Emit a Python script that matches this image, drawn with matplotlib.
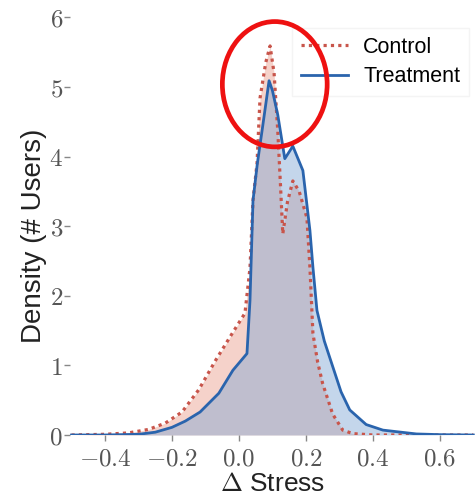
import numpy as np
import matplotlib
matplotlib.use("Agg")
import matplotlib.pyplot as plt
from matplotlib.patches import Ellipse
from matplotlib.ticker import FuncFormatter

# ----------------------------
# DATA
# ----------------------------
control_x = [-0.50, -0.40, -0.33, -0.27, -0.22, -0.17, -0.12, -0.07, -0.02, 0.018, 0.033, 0.042,
             0.054, 0.063, 0.080, 0.093, 0.105, 0.116, 0.124, 0.131, 0.145, 0.161,
             0.180, 0.203, 0.212, 0.221, 0.235, 0.250, 0.280, 0.310, 0.340, 0.40, 0.50, 0.70]
control_y = [0.0, 0.01, 0.03, 0.08, 0.17, 0.33, 0.65, 1.07, 1.46, 1.75, 2.40, 3.37,
             3.90, 4.84, 5.35, 5.59, 5.20, 4.37, 3.60, 2.89, 3.35, 3.65,
             3.50, 3.12, 2.41, 1.46, 1.05, 0.74, 0.30, 0.07, 0.02, 0.0, 0.0, 0.0]

treat_x = [-0.50, -0.40, -0.30, -0.25, -0.20, -0.16, -0.116, -0.06, -0.018, 0.024, 0.033,
           0.042, 0.055, 0.069, 0.090, 0.100, 0.116, 0.137, 0.161, 0.191, 0.212,
           0.221, 0.233, 0.255, 0.281, 0.305, 0.331, 0.38, 0.43, 0.53, 0.60, 0.70]
treat_y = [0.0, 0.0, 0.01, 0.04, 0.11, 0.20, 0.33, 0.60, 0.93, 1.17, 1.93,
           3.37, 3.90, 4.37, 5.09, 4.95, 4.60, 3.97, 4.15, 3.80, 2.94,
           2.41, 1.79, 1.35, 0.97, 0.62, 0.36, 0.15, 0.07, 0.015, 0.005, 0.0]

x_ticks = [-0.4, -0.2, 0.0, 0.2, 0.4, 0.6]
y_ticks = [0, 1, 2, 3, 4, 5, 6]

# highlight ring around the peaks (data units)
ring_center = (0.107, 5.04)
ring_w, ring_h = 0.313, 1.80

RED = "#c8554b"
RED_FILL = "#e8907c"
BLUE = "#2a64ad"
BLUE_FILL = "#7ea6d3"

plt.rcParams["mathtext.fontset"] = "cm"
plt.rcParams["font.family"] = ["Liberation Sans", "DejaVu Sans"]

fig = plt.figure(figsize=(4.75, 4.96), dpi=100)
ax = fig.add_axes([0.147, 0.123, 0.853, 0.877])

ax.fill_between(control_x, control_y, color=RED_FILL, alpha=0.4, linewidth=0)
ax.fill_between(treat_x, treat_y, color=BLUE_FILL, alpha=0.45, linewidth=0)
ax.plot(control_x, control_y, color=RED, linestyle=(0, (1.0, 1.3)), linewidth=2.3,
        label="Control")
ax.plot(treat_x, treat_y, color=BLUE, linewidth=2.0, label="Treatment")

ax.add_patch(Ellipse(ring_center, ring_w, ring_h, fill=False, edgecolor="#ee1111",
                     linewidth=3.4, zorder=10, clip_on=False))

ax.set_xlim(-0.505, 0.705)
ax.set_ylim(0, 6.25)
ax.set_xticks(x_ticks)
ax.set_yticks(y_ticks)
ax.xaxis.set_major_formatter(FuncFormatter(lambda v, p: r"$%.1f$" % v))
ax.yaxis.set_major_formatter(FuncFormatter(lambda v, p: r"$%d$" % v))
ax.tick_params(axis="both", colors="#888888", labelcolor="#555555",
               labelsize=18, length=4, width=1, pad=1)
ax.tick_params(axis="x", pad=4)

for s in ax.spines.values():
    s.set_visible(False)

ax.set_xlabel(r"$\Delta$ Stress", fontsize=19, color="#222222")
ax.xaxis.set_label_coords(0.5, -0.085, transform=ax.transAxes)
ax.xaxis.label.set_va("top")
ax.set_ylabel("Density (# Users)", fontsize=20, color="#222222")
ax.yaxis.set_label_coords(-0.057, 0.457)

leg = ax.legend(loc="upper right", fontsize=15.5, frameon=True, framealpha=1,
                edgecolor="#f4f4f4", fancybox=False, handlelength=2.2,
                handletextpad=0.7, labelspacing=0.4,
                borderaxespad=0.0, bbox_to_anchor=(0.985, 0.935))

fig.savefig("out.png", dpi=100)
